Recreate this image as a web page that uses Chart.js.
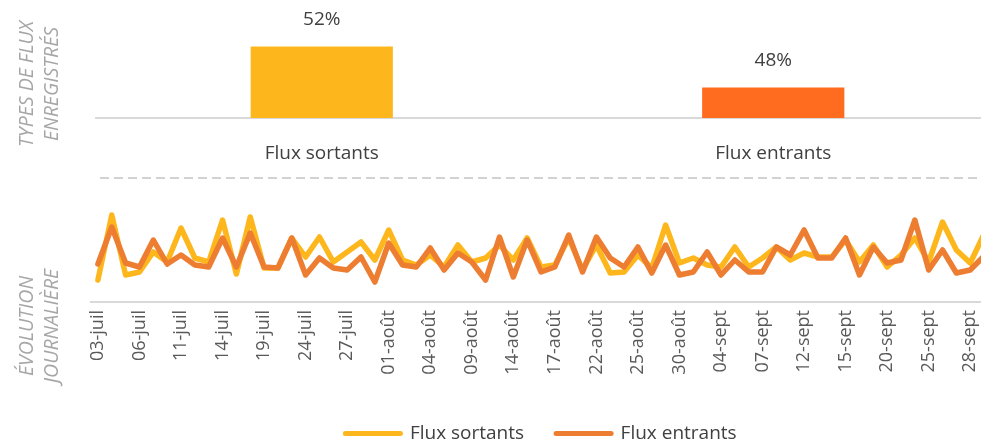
<!DOCTYPE html>
<html>
<head>
<meta charset="utf-8">
<script src="https://cdn.jsdelivr.net/npm/chart.js@4.4.0/dist/chart.umd.min.js"></script>
<style>
  body { margin: 0; background: #fff; }
  #wrap { position: relative; width: 981px; height: 444px; overflow: hidden; font-family: 'Open Sans', sans-serif; }
  #typesChart { position: absolute; left: 0; top: 0; }
  #dailyChart { position: absolute; left: 0; top: 180px; }
  #sep { position: absolute; left: 0; top: 0; }
  .side {
    position: absolute; width: 170px; height: 50px; text-align: center;
    color: #a6a6a6; font-style: italic; font-size: 19.5px; line-height: 25px;
    transform: rotate(-90deg);
  }
</style>
</head>
<body>
<div id="wrap">
  <svg id="sep" width="981" height="444"><line x1="100" y1="178" x2="981" y2="178" stroke="#c4c4c4" stroke-width="1.5" stroke-dasharray="9 5"/></svg>
  <canvas id="typesChart" width="1010" height="180"></canvas>
  <canvas id="dailyChart" width="1089" height="273"></canvas>
  <div class="side" style="left:-47px; top:59px;">TYPES DE FLUX<br>ENREGISTRÉS</div>
  <div class="side" style="left:-47px; top:301px;">ÉVOLUTION<br>JOURNALIÈRE</div>
</div>
<script>
// top chart: share of each flow type (%)
const typeLabels = ['Flux sortants', 'Flux entrants'];
const typeShares = [52, 48];
const typeColors = ['#FDB71C', '#FF6B1F'];

// bottom chart: working days, 03-juil -> 29-sept
const days = [
  '03-juil', '04-juil', '05-juil', '06-juil', '07-juil', '10-juil', '11-juil', '12-juil', '13-juil', '14-juil',
  '17-juil', '18-juil', '19-juil', '20-juil', '21-juil', '24-juil', '25-juil', '26-juil', '27-juil', '28-juil',
  '31-juil', '01-août', '02-août', '03-août', '04-août', '07-août', '08-août', '09-août', '10-août', '11-août',
  '14-août', '15-août', '16-août', '17-août', '18-août', '21-août', '22-août', '23-août', '24-août', '25-août',
  '28-août', '29-août', '30-août', '31-août', '01-sept', '04-sept', '05-sept', '06-sept', '07-sept', '08-sept',
  '11-sept', '12-sept', '13-sept', '14-sept', '15-sept', '18-sept', '19-sept', '20-sept', '21-sept', '22-sept',
  '25-sept', '26-sept', '27-sept', '28-sept', '29-sept'
];

const fluxSortants = [
  20, 85, 25, 28, 48, 38, 72, 42, 38, 80,
  26, 83, 32, 32, 62, 43, 63, 38, 48, 58,
  40, 70, 40, 35, 45, 33, 55, 38, 42, 55,
  40, 62, 33, 35, 62, 30, 55, 27, 28, 45,
  32, 75, 37, 42, 35, 33, 53, 33, 42, 53,
  40, 47, 43, 43, 60, 38, 55, 33, 45, 62,
  38, 78, 50, 37, 66
];

const fluxEntrants = [
  36, 73, 37, 33, 60, 36, 45, 35, 33, 62,
  33, 67, 33, 32, 62, 25, 42, 32, 30, 43,
  18, 57, 35, 33, 52, 30, 47, 38, 20, 63,
  23, 60, 28, 33, 65, 28, 63, 42, 33, 53,
  27, 55, 25, 28, 48, 25, 40, 28, 28, 53,
  45, 70, 42, 42, 62, 25, 53, 37, 40, 80,
  30, 50, 27, 30, 44
];

const shareLabels = {
  id: 'shareLabels',
  afterDatasetsDraw(chart) {
    const ctx = chart.ctx;
    const meta = chart.getDatasetMeta(0);
    ctx.save();
    ctx.fillStyle = '#404040';
    ctx.font = '19px "Open Sans"';
    ctx.textAlign = 'center';
    ctx.textBaseline = 'middle';
    meta.data.forEach((bar, i) => {
      ctx.fillText(typeShares[i] + '%', bar.x, bar.y - 27);
    });
    ctx.restore();
  }
};

new Chart(document.getElementById('typesChart'), {
  type: 'bar',
  data: {
    labels: typeLabels,
    datasets: [{
      data: typeShares,
      backgroundColor: typeColors,
      categoryPercentage: 0.315,
      barPercentage: 1
    }]
  },
  options: {
    responsive: false,
    animation: false,
    layout: { padding: { left: 96, right: 11, top: 16, bottom: 0 } },
    plugins: { legend: { display: false }, tooltip: { enabled: false } },
    scales: {
      x: {
        grid: { display: false, drawTicks: false },
        border: { color: '#d9d9d9', width: 2 },
        ticks: { color: '#404040', font: { family: 'Open Sans', size: 19 }, padding: 24 },
        afterFit: s => { s.height = 62; }
      },
      y: { display: false, min: 45, max: 55 }
    }
  },
  plugins: [shareLabels]
});

new Chart(document.getElementById('dailyChart'), {
  type: 'line',
  data: {
    labels: days,
    datasets: [{
      label: 'Flux sortants',
      data: fluxSortants,
      borderColor: '#FDB71C',
      pointBorderWidth: 5,
      order: 1
    }, {
      label: 'Flux entrants',
      data: fluxEntrants,
      borderColor: '#ED7D31',
      pointBorderWidth: 5,
      order: 0
    }]
  },
  options: {
    responsive: false,
    animation: false,
    elements: {
      point: { radius: 0 },
      line: { borderWidth: 5.5, tension: 0, borderCapStyle: 'round', borderJoinStyle: 'round' }
    },
    layout: { padding: { left: 91, right: 98, top: 20, bottom: 0 } },
    plugins: {
      tooltip: { enabled: false },
      legend: {
        position: 'bottom',
        labels: {
          usePointStyle: true,
          pointStyle: 'line',
          pointStyleWidth: 55,
          padding: 32,
          color: '#404040',
          font: { family: 'Open Sans', size: 19 },
          sort: (a, b) => a.datasetIndex - b.datasetIndex,
          generateLabels: chart => Chart.defaults.plugins.legend.labels.generateLabels(chart)
            .map(item => ({ ...item, lineCap: 'round' }))
        }
      }
    },
    scales: {
      x: {
        offset: true,
        grid: { display: false, drawTicks: false },
        border: { color: '#d9d9d9', width: 2 },
        ticks: {
          autoSkip: false,
          minRotation: 90,
          maxRotation: 90,
          color: '#595959',
          font: { family: 'Open Sans', size: 18 },
          padding: 8,
          callback: (v, i) => (i % 3 === 0 ? days[i] : '')
        },
        afterFit: s => { s.height = 90; }
      },
      y: { display: false, min: -2, max: 100 }
    }
  }
});
</script>
</body>
</html>
